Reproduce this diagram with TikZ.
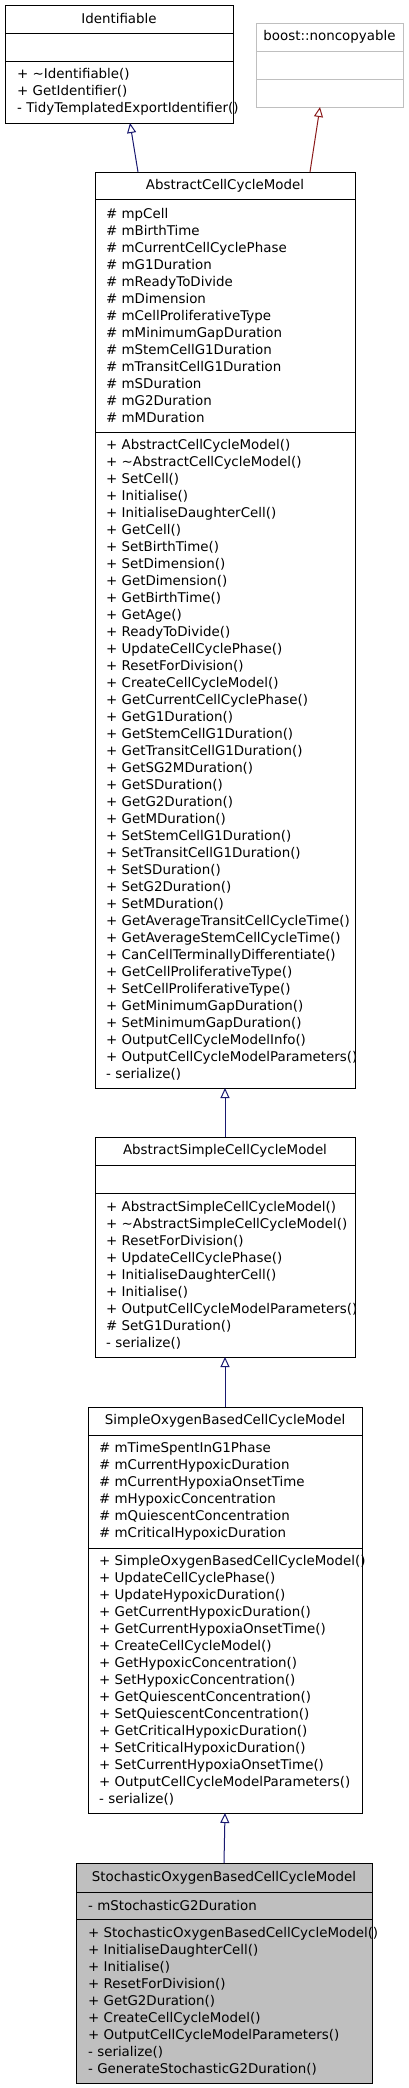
\documentclass[tikz,border=0pt]{standalone}
\usepackage{fontspec}
\setmainfont{DejaVu Sans}
\usepackage{xcolor}
\usetikzlibrary{arrows.meta,positioning}

\definecolor{inheritblue}{HTML}{191970}
\definecolor{inheritred}{HTML}{8B1A1A}
\definecolor{extgray}{HTML}{BFBFBF}
\newcommand{\umlfont}{\fontsize{13.4}{17}\selectfont}

\begin{document}
\begin{tikzpicture}[
    x=1pt, y=-1pt,
    head/.style={draw, line width=1pt, anchor=north west, inner sep=0pt, outer sep=0pt, minimum height=28pt, font=\umlfont},
    part/.style={draw, line width=1pt, inner sep=0pt, outer sep=0pt},
    members/.style={inner sep=0pt, align=left, font=\umlfont},
    inherit/.style={line width=1pt, ->, >={Triangle[open, length=10pt, width=9pt]}}
]
\useasboundingbox (0,0) rectangle (408,2088);

% Base classes
\node[head, minimum width=228pt] (ident) at (5,5) {Identifiable};
\node[part, minimum width=228pt, minimum height=28pt, below=0pt of ident] (ident_attrs) {};
\node[part, minimum width=228pt, minimum height=62pt, below=0pt of ident_attrs] (ident_ops) {};
\node[members, right=12pt of ident_ops.west] (ident_ops_txt) {+ \textasciitilde Identifiable()\\+ GetIdentifier()\\- TidyTemplatedExportIdentifier()};

\node[head, draw=extgray, minimum width=147pt] (nocopy) at (256,23) {boost::noncopyable};
\node[part, draw=extgray, minimum width=147pt, minimum height=28pt, below=0pt of nocopy] (nocopy_attrs) {};
\node[part, draw=extgray, minimum width=147pt, minimum height=28pt, below=0pt of nocopy_attrs] (nocopy_ops) {};

% AbstractCellCycleModel
\node[head, minimum width=260pt, minimum height=27pt] (abstract_ccm) at (95,172) {AbstractCellCycleModel};
\node[part, minimum width=260pt, minimum height=233pt, below=0pt of abstract_ccm] (abstract_ccm_attrs) {};
\node[part, minimum width=260pt, minimum height=656pt, below=0pt of abstract_ccm_attrs] (abstract_ccm_ops) {};
\node[members, right=11pt of abstract_ccm_attrs.west] (abstract_ccm_attrs_txt) {\# mpCell\\\# mBirthTime\\\# mCurrentCellCyclePhase\\\# mG1Duration\\\# mReadyToDivide\\\# mDimension\\\# mCellProliferativeType\\\# mMinimumGapDuration\\\# mStemCellG1Duration\\\# mTransitCellG1Duration\\\# mSDuration\\\# mG2Duration\\\# mMDuration};
\node[members, right=11pt of abstract_ccm_ops.west] (abstract_ccm_ops_txt) {+ AbstractCellCycleModel()\\+ \textasciitilde AbstractCellCycleModel()\\+ SetCell()\\+ Initialise()\\+ InitialiseDaughterCell()\\+ GetCell()\\+ SetBirthTime()\\+ SetDimension()\\+ GetDimension()\\+ GetBirthTime()\\+ GetAge()\\+ ReadyToDivide()\\+ UpdateCellCyclePhase()\\+ ResetForDivision()\\+ CreateCellCycleModel()\\+ GetCurrentCellCyclePhase()\\+ GetG1Duration()\\+ GetStemCellG1Duration()\\+ GetTransitCellG1Duration()\\+ GetSG2MDuration()\\+ GetSDuration()\\+ GetG2Duration()\\+ GetMDuration()\\+ SetStemCellG1Duration()\\+ SetTransitCellG1Duration()\\+ SetSDuration()\\+ SetG2Duration()\\+ SetMDuration()\\+ GetAverageTransitCellCycleTime()\\+ GetAverageStemCellCycleTime()\\+ CanCellTerminallyDifferentiate()\\+ GetCellProliferativeType()\\+ SetCellProliferativeType()\\+ GetMinimumGapDuration()\\+ SetMinimumGapDuration()\\+ OutputCellCycleModelInfo()\\+ OutputCellCycleModelParameters()\\- serialize()};

% AbstractSimpleCellCycleModel
\node[head, minimum width=260pt] (simple_ccm) at (95,1137) {AbstractSimpleCellCycleModel};
\node[part, minimum width=260pt, minimum height=28pt, below=0pt of simple_ccm] (simple_ccm_attrs) {};
\node[part, minimum width=260pt, minimum height=164pt, below=0pt of simple_ccm_attrs] (simple_ccm_ops) {};
\node[members, right=11pt of simple_ccm_ops.west] (simple_ccm_ops_txt) {+ AbstractSimpleCellCycleModel()\\+ \textasciitilde AbstractSimpleCellCycleModel()\\+ ResetForDivision()\\+ UpdateCellCyclePhase()\\+ InitialiseDaughterCell()\\+ Initialise()\\+ OutputCellCycleModelParameters()\\\# SetG1Duration()\\- serialize()};

% SimpleOxygenBasedCellCycleModel
\node[head, minimum width=274pt] (oxygen_ccm) at (88,1407) {SimpleOxygenBasedCellCycleModel};
\node[part, minimum width=274pt, minimum height=113pt, below=0pt of oxygen_ccm] (oxygen_ccm_attrs) {};
\node[part, minimum width=274pt, minimum height=265pt, below=0pt of oxygen_ccm_attrs] (oxygen_ccm_ops) {};
\node[members, right=11pt of oxygen_ccm_attrs.west] (oxygen_ccm_attrs_txt) {\# mTimeSpentInG1Phase\\\# mCurrentHypoxicDuration\\\# mCurrentHypoxiaOnsetTime\\\# mHypoxicConcentration\\\# mQuiescentConcentration\\\# mCriticalHypoxicDuration};
\node[members, right=11pt of oxygen_ccm_ops.west] (oxygen_ccm_ops_txt) {+ SimpleOxygenBasedCellCycleModel()\\+ UpdateCellCyclePhase()\\+ UpdateHypoxicDuration()\\+ GetCurrentHypoxicDuration()\\+ GetCurrentHypoxiaOnsetTime()\\+ CreateCellCycleModel()\\+ GetHypoxicConcentration()\\+ SetHypoxicConcentration()\\+ GetQuiescentConcentration()\\+ SetQuiescentConcentration()\\+ GetCriticalHypoxicDuration()\\+ SetCriticalHypoxicDuration()\\+ SetCurrentHypoxiaOnsetTime()\\+ OutputCellCycleModelParameters()\\- serialize()};

% StochasticOxygenBasedCellCycleModel
\node[head, fill=extgray, minimum width=296pt, minimum height=29pt] (stoch_ccm) at (76,1863) {StochasticOxygenBasedCellCycleModel};
\node[part, fill=extgray, minimum width=296pt, minimum height=27pt, below=0pt of stoch_ccm] (stoch_ccm_attrs) {};
\node[part, fill=extgray, minimum width=296pt, minimum height=164pt, below=0pt of stoch_ccm_attrs] (stoch_ccm_ops) {};
\node[members, right=12pt of stoch_ccm_attrs.west] (stoch_ccm_attrs_txt) {- mStochasticG2Duration};
\node[members, right=12pt of stoch_ccm_ops.west] (stoch_ccm_ops_txt) {+ StochasticOxygenBasedCellCycleModel()\\+ InitialiseDaughterCell()\\+ Initialise()\\+ ResetForDivision()\\+ GetG2Duration()\\+ CreateCellCycleModel()\\+ OutputCellCycleModelParameters()\\- serialize()\\- GenerateStochasticG2Duration()};

% Inheritance
\draw[inherit, inheritblue] ([xshift=43pt]abstract_ccm.north west) -- ([xshift=125pt]ident_ops.south west);
\draw[inherit, inheritred] ([xshift=215pt]abstract_ccm.north west) -- ([xshift=64pt]nocopy_ops.south west);
\draw[inherit, inheritblue] (simple_ccm.north) -- (abstract_ccm_ops.south);
\draw[inherit, inheritblue] (oxygen_ccm.north) -- (simple_ccm_ops.south);
\draw[inherit, inheritblue] (stoch_ccm.north) -- (oxygen_ccm_ops.south);

\end{tikzpicture}
\end{document}
